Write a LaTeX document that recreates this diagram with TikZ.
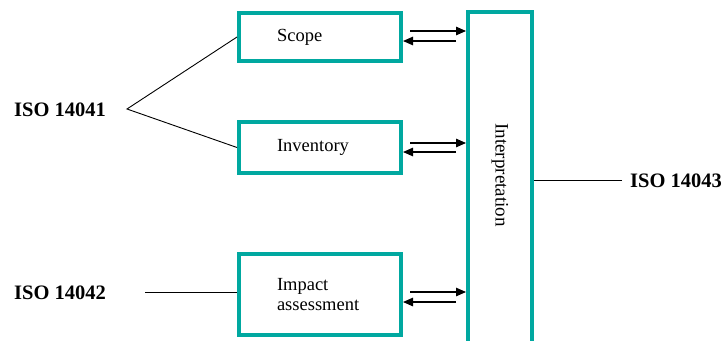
\documentclass[tikz,border=0pt]{standalone}
\usepackage{fontspec}
\setmainfont{Liberation Serif}
\usetikzlibrary{arrows.meta,calc}
\definecolor{lcateal}{RGB}{0,168,160}
\begin{document}
\begin{tikzpicture}[x=1pt,y=-1pt,
  phase/.style={draw=lcateal, line width=4pt, inner xsep=38pt, inner ysep=0pt,
    minimum height=#1, text width=86pt, align=left,
    font=\fontsize{18.5}{19.5}\selectfont},
  iso/.style={inner sep=0pt, font=\bfseries\fontsize{20.5}{24}\selectfont},
  flow/.style={line width=1.2pt, -{Triangle[length=10pt,width=8.5pt]}},
  link/.style={line width=0.9pt}]
\useasboundingbox (0,0) rectangle (728,340);
\clip (0,0) rectangle (728,340);

% life cycle phases
\node[phase=48pt] (scope) at (320,37) {Scope};
\node[phase=51pt] (inv) at (320,147.5) {Inventory};
\node[phase=81pt] (impact) at (320,294.5) {Impact\\assessment};

% interpretation column, open towards the bottom
\node[draw=lcateal, line width=4pt, minimum width=64pt, minimum height=400pt,
  inner sep=0pt] (interp) at (500,212) {};
\node[rotate=-90, inner sep=0pt, font=\fontsize{19}{20}\selectfont]
  (interptext) at (500,175) {Interpretation};

% two-way exchange between each phase and the interpretation
\draw[flow] ($(scope.east)+(7,-6)$) coordinate (s1) -- (s1 -| interp.west);
\draw[flow] ($(interp.west |- scope.east)+(-10,4)$) coordinate (s2) -- (s2 -| scope.east);
\draw[flow] ($(inv.east)+(7,-4.5)$) coordinate (i1) -- (i1 -| interp.west);
\draw[flow] ($(interp.west |- inv.east)+(-10,4.5)$) coordinate (i2) -- (i2 -| inv.east);
\draw[flow] ($(impact.east)+(7,-2.5)$) coordinate (m1) -- (m1 -| interp.west);
\draw[flow] ($(interp.west |- impact.east)+(-10,7.5)$) coordinate (m2) -- (m2 -| impact.east);

% standards
\node[iso, anchor=base west] (iso41) at (14,116) {ISO 14041};
\coordinate (fork) at (127,109);
\draw[link] (scope.west) -- (fork) -- (inv.west);

\node[iso, anchor=base west] (iso42) at (14,299) {ISO 14042};
\coordinate (l42) at (145,292);
\draw[link] (l42) -- (l42 -| impact.west);

\node[iso, anchor=base west] (iso43) at (630,187) {ISO 14043};
\draw[link] ($(iso43.west)+(-8,0)$) -- (interp.east |- iso43.west);
\end{tikzpicture}
\end{document}
